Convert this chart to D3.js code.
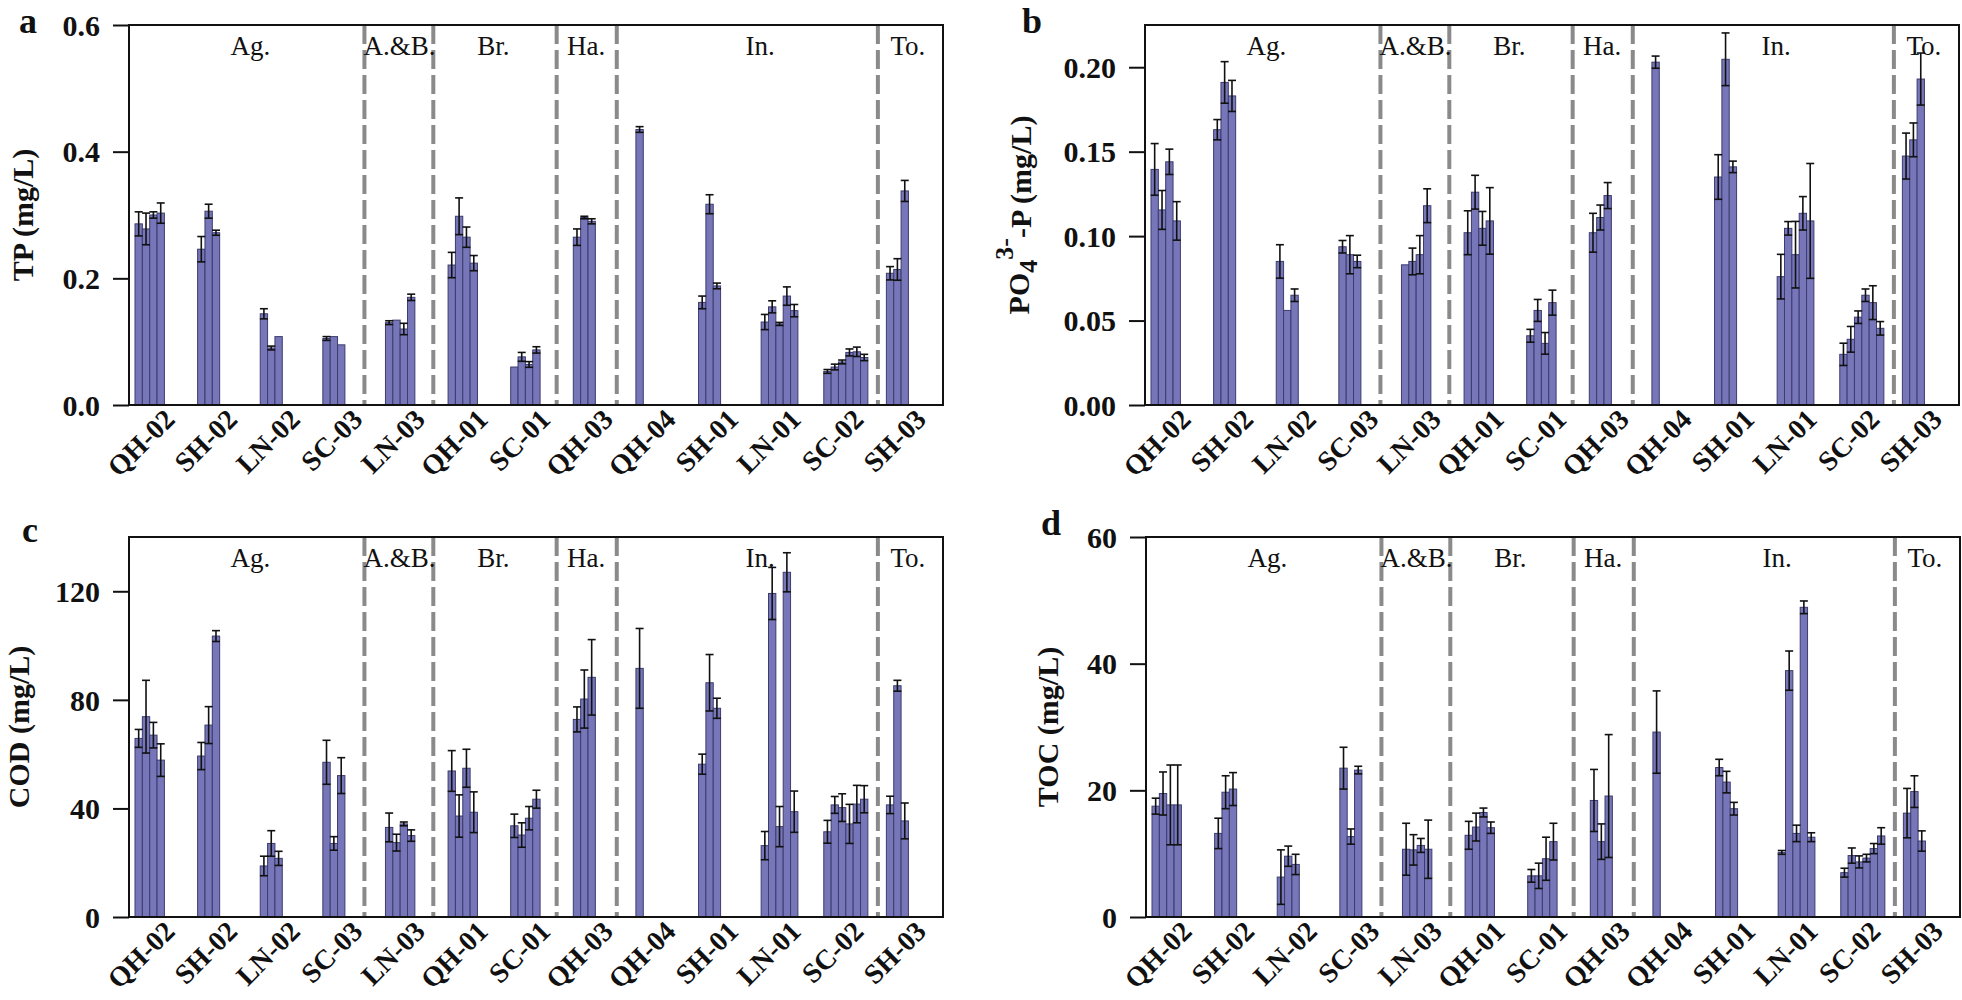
<!DOCTYPE html>
<html>
<head>
<meta charset="utf-8">
<script src="https://cdn.jsdelivr.net/npm/d3@7"></script>
<style>
  body { margin: 0; background: #fff; }
  text { font-family: "Liberation Serif", "Times New Roman", serif; }
</style>
</head>
<body>
<div id="chart"></div>
<script>
// sampling sites (x categories)
const sites = ['QH-02', 'SH-02', 'LN-02', 'SC-03', 'LN-03', 'QH-01', 'SC-01',
               'QH-03', 'QH-04', 'SH-01', 'LN-01', 'SC-02', 'SH-03'];

// land use groups, label position and dashed separators (in site units)
const groupNames = ['Ag.', 'A.&B.', 'Br.', 'Ha.', 'In.', 'To.'];
const groupLabelPos = [1.94, 4.32, 5.82, 7.3, 10.08, 12.44];
const separatorPos = [3.76, 4.86, 6.83, 7.79, 11.96];

// TP (mg/L)
const tpMean = [[0.286, 0.278, 0.300, 0.303], [0.246, 0.306, 0.272], [0.144, 0.090, 0.108],
  [0.105, 0.108, 0.095], [0.130, 0.134, 0.120, 0.170], [0.221, 0.298, 0.265, 0.224],
  [0.060, 0.076, 0.064, 0.087], [0.265, 0.296, 0.290], [0.435], [0.162, 0.317, 0.188],
  [0.131, 0.155, 0.128, 0.172, 0.149], [0.053, 0.060, 0.068, 0.083, 0.084, 0.075],
  [0.208, 0.214, 0.338]];
const tpErr = [[0.019, 0.025, 0.005, 0.016], [0.020, 0.011, 0.004], [0.008, 0.003, 0],
  [0.003, 0, 0], [0.003, 0, 0.009, 0.005], [0.020, 0.029, 0.016, 0.012],
  [0, 0.007, 0.0045, 0.005], [0.013, 0.002, 0.004], [0.0045], [0.010, 0.015, 0.0045],
  [0.012, 0.0095, 0.0024, 0.0145, 0.0097], [0.003, 0.0045, 0.003, 0.0055, 0.0074, 0.005],
  [0.0105, 0.017, 0.0166]];

// PO4-P (mg/L)
const po4Mean = [[0.1395, 0.1155, 0.144, 0.109], [0.163, 0.191, 0.183], [0.085, 0.056, 0.065],
  [0.0937, 0.089, 0.085], [0.083, 0.085, 0.089, 0.118], [0.102, 0.126, 0.1046, 0.109],
  [0.041, 0.056, 0.0365, 0.0606], [0.102, 0.111, 0.124], [0.203], [0.135, 0.2047, 0.141],
  [0.076, 0.1046, 0.089, 0.1135, 0.109], [0.030, 0.0389, 0.052, 0.065, 0.0606, 0.0454],
  [0.1474, 0.157, 0.193]];
const po4Err = [[0.0153, 0.0115, 0.0075, 0.0114], [0.006, 0.0123, 0.0092], [0.0099, 0, 0.0037],
  [0.0037, 0.0113, 0.0037], [0, 0.0079, 0.0113, 0.010], [0.013, 0.010, 0.010, 0.0197],
  [0.0038, 0.0065, 0.0064, 0.0074], [0.0115, 0.0074, 0.0077], [0.0036], [0.0132, 0.0156, 0.0034],
  [0.0132, 0.004, 0.0197, 0.0099, 0.034], [0.0066, 0.0076, 0.0037, 0.0037, 0.010, 0.004],
  [0.0136, 0.010, 0.0154]];

// COD (mg/L)
const codMean = [[65.8, 73.8, 67.0, 57.8], [59.3, 70.7, 103.5], [18.8, 27.1, 21.6],
  [57.0, 27.1, 52.1], [33.0, 27.4, 34.3, 30.0], [53.8, 37.2, 54.8, 38.6],
  [33.6, 30.2, 36.4, 43.4], [72.8, 80.3, 88.3], [91.6], [56.3, 86.3, 76.9],
  [26.3, 119.2, 33.3, 127.0, 38.8], [31.4, 41.3, 40.3, 34.3, 41.6, 43.4],
  [41.3, 85.2, 35.4]];
const codErr = [[3.3, 13.4, 4.7, 6.0], [5.0, 6.8, 2.0], [3.6, 4.7, 2.6],
  [8.1, 2.5, 6.6], [5.3, 3.1, 0.7, 2.1], [7.5, 7.8, 7.0, 7.5],
  [4.3, 4.5, 4.3, 3.3], [4.6, 10.7, 13.9], [14.7], [3.7, 10.4, 3.7],
  [5.2, 9.6, 7.4, 7.2, 7.6], [4.2, 3.1, 5.1, 7.2, 6.9, 5.0],
  [3.2, 2.0, 6.6]];

// TOC (mg/L)
const tocMean = [[17.5, 19.5, 17.7, 17.7], [13.2, 19.7, 20.2], [6.3, 9.6, 8.3],
  [23.5, 12.7, 23.2], [10.7, 10.6, 11.3, 10.7], [12.9, 14.2, 16.5, 14.1],
  [6.5, 6.5, 9.2, 11.9], [18.4, 11.9, 19.1], [29.2], [23.6, 21.3, 17.1],
  [10.2, 38.9, 13.2, 48.9, 12.6], [7.0, 9.7, 8.7, 9.3, 10.8, 12.8],
  [16.4, 19.8, 12.0]];
const tocErr = [[1.26, 3.4, 6.3, 6.3], [2.4, 2.6, 2.6], [4.3, 1.6, 1.6],
  [3.3, 1.2, 0.6], [4.1, 2.4, 1.1, 4.6], [2.2, 2.2, 0.7, 0.9],
  [1.0, 2.0, 3.4, 2.9], [4.9, 2.8, 9.7], [6.5], [1.3, 1.7, 1.0],
  [0.3, 3.1, 1.3, 1.0, 0.7], [0.7, 1.2, 0.95, 0.6, 0.8, 1.3],
  [3.9, 2.5, 1.6]];

const svg = d3.select('#chart').append('svg')
  .attr('width', 1962)
  .attr('height', 1000);

const W = 814, H = 380;

function drawPanel(p) {
  const g = svg.append('g').attr('transform', `translate(${p.left},${p.top})`);

  // scales
  const x0 = d3.scaleBand().domain(sites).range([0, W]);
  const x1 = d3.scaleBand().domain(d3.range(6)).range([6, x0.step() * 0.8]);
  const xu = d3.scaleLinear().domain([0, sites.length]).range([0, W]);
  const y = d3.scaleLinear().domain(p.domain).range([H, 0]);

  // dashed separators
  g.selectAll('.sep').data(separatorPos).enter().append('line')
    .attr('x1', d => xu(d)).attr('x2', d => xu(d))
    .attr('y1', 0).attr('y2', H)
    .attr('stroke', '#8a8a8a').attr('stroke-width', 4)
    .attr('stroke-dasharray', '19,6');

  // bars
  const rows = [];
  sites.forEach((s, i) => p.mean[i].forEach((v, j) => rows.push({ site: s, j, v, e: p.err[i][j] })));

  g.selectAll('.bar').data(rows).enter().append('rect')
    .attr('x', d => x0(d.site) + x1(d.j))
    .attr('y', d => y(d.v))
    .attr('width', x1.bandwidth())
    .attr('height', d => H - y(d.v))
    .attr('fill', '#7676b8')
    .attr('stroke', '#3c3c70')
    .attr('stroke-width', 1);

  // error bars
  const eb = g.selectAll('.err').data(rows.filter(d => d.e > 0)).enter().append('g')
    .attr('transform', d => `translate(${x0(d.site) + x1(d.j) + x1.bandwidth() / 2},0)`);
  eb.append('line')
    .attr('y1', d => y(d.v - d.e)).attr('y2', d => y(d.v + d.e))
    .attr('stroke', '#111').attr('stroke-width', 1.6);
  eb.append('line')
    .attr('x1', -4).attr('x2', 4)
    .attr('y1', d => y(d.v + d.e)).attr('y2', d => y(d.v + d.e))
    .attr('stroke', '#111').attr('stroke-width', 1.6);
  eb.append('line')
    .attr('x1', -4).attr('x2', 4)
    .attr('y1', d => y(d.v - d.e)).attr('y2', d => y(d.v - d.e))
    .attr('stroke', '#111').attr('stroke-width', 1.6);

  // frame
  g.append('rect')
    .attr('width', W).attr('height', H)
    .attr('fill', 'none').attr('stroke', '#111').attr('stroke-width', 2);

  // y axis
  const ya = g.append('g')
    .call(d3.axisLeft(y).tickValues(p.ticks).tickFormat(d3.format(p.fmt)).tickSize(16).tickSizeOuter(0));
  ya.select('.domain').remove();
  ya.selectAll('line').attr('stroke', '#111').attr('stroke-width', 2);
  ya.selectAll('text')
    .attr('x', -29)
    .attr('dy', '0.34em')
    .style('font-family', '"Liberation Serif", serif')
    .style('font-size', '30px')
    .style('font-weight', 'bold')
    .attr('fill', '#111');

  // x tick labels
  g.selectAll('.xl').data(sites).enter().append('text')
    .attr('transform', d => `translate(${x0(d) + x0.step() / 2 + 16},${H + 16}) rotate(-45)`)
    .attr('text-anchor', 'end')
    .style('font-size', '28px')
    .style('font-weight', 'bold')
    .attr('fill', '#111')
    .text(d => d);

  // group labels
  g.selectAll('.gl').data(groupNames).enter().append('text')
    .attr('x', (d, i) => xu(groupLabelPos[i]))
    .attr('y', 30)
    .attr('text-anchor', 'middle')
    .style('font-size', '27px')
    .attr('fill', '#111')
    .text(d => d);

  // y axis title
  const t = g.append('text')
    .attr('transform', `translate(${p.titleX},${H / 2}) rotate(-90)`)
    .attr('text-anchor', 'middle')
    .style('font-size', '30px')
    .style('font-weight', 'bold')
    .attr('fill', '#111');
  p.title.forEach(part => {
    const ts = t.append('tspan').text(part.t);
    if (part.dy) ts.attr('dy', part.dy);
    if (part.size) ts.style('font-size', part.size);
  });

  // panel letter
  svg.append('text')
    .attr('x', p.letterX).attr('y', p.letterY)
    .style('font-size', '36px')
    .style('font-weight', 'bold')
    .attr('fill', '#111')
    .text(p.letter);
}

drawPanel({ letter: 'a', letterX: 19, letterY: 33, left: 129, top: 25, titleX: -96,
  title: [{ t: 'TP (mg/L)' }],
  mean: tpMean, err: tpErr, domain: [0, 0.6], ticks: [0, 0.2, 0.4, 0.6], fmt: '.1f' });

drawPanel({ letter: 'b', letterX: 1022, letterY: 33, left: 1145, top: 25, titleX: -116,
  title: [{ t: 'PO' }, { t: '4', dy: '0.3em', size: '26px' }, { t: '3-', dy: '-0.9em', size: '26px' },
          { t: '-P (mg/L)', dy: '0.6em' }],
  mean: po4Mean, err: po4Err, domain: [0, 0.225], ticks: [0, 0.05, 0.10, 0.15, 0.20], fmt: '.2f' });

drawPanel({ letter: 'c', letterX: 22, letterY: 542, left: 129, top: 537, titleX: -100,
  title: [{ t: 'COD (mg/L)' }],
  mean: codMean, err: codErr, domain: [0, 140], ticks: [0, 40, 80, 120], fmt: 'd' });

drawPanel({ letter: 'd', letterX: 1041, letterY: 535, left: 1146, top: 537, titleX: -88,
  title: [{ t: 'TOC (mg/L)' }],
  mean: tocMean, err: tocErr, domain: [0, 60], ticks: [0, 20, 40, 60], fmt: 'd' });
</script>
</body>
</html>
